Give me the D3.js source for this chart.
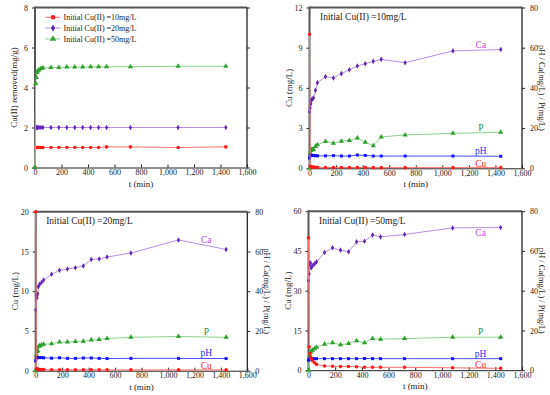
<!DOCTYPE html>
<html>
<head>
<meta charset="utf-8">
<script src="https://cdn.jsdelivr.net/npm/d3@7"></script>
<style>
  body { margin: 0; background: #fff; }
  svg { display: block; font-family: "Liberation Serif", "Times New Roman", serif; }
</style>
</head>
<body>
<svg id="chart" width="550" height="395"></svg>
<script>
// sampling times (min)
const times = [0, 5, 10, 15, 20, 30, 45, 60, 120, 180, 240, 300, 360, 420, 480, 540, 720, 1080, 1440];
const xTicks = [0, 200, 400, 600, 800, 1000, 1200, 1400, 1600];
const rightTicks = [0, 20, 40, 60, 80];

// panel (a): Cu(II) removed (mg/g)
const removed10 = [0, 1.0, 1.0, 1.0, 1.0, 1.0, 1.0, 1.0, 1.0, 1.0, 1.0, 1.0, 1.0, 1.0, 1.0, 1.03, 1.03, 1.0, 1.03];
const removed20 = [0, 2.0, 2.0, 2.0, 2.0, 2.0, 2.0, 2.0, 2.0, 2.0, 2.0, 2.0, 2.0, 2.0, 2.0, 2.0, 2.0, 2.0, 2.0];
const removed50 = [0, 4.2, 4.5, 4.75, 4.82, 4.88, 4.95, 4.97, 5.0, 5.0, 5.02, 5.02, 5.02, 5.04, 5.04, 5.04, 5.04, 5.06, 5.06];
const legendNames = ['Initial Cu(II) =10mg/L', 'Initial Cu(II) =20mg/L', 'Initial Cu(II) =50mg/L'];

// panel (b): 10 mg/L
const cu10 = [10, 0.15, 0.12, 0.1, 0.1, 0.1, 0.08, 0.08, 0.06, 0.06, 0.06, 0.06, 0.06, 0.06, 0.05, 0.05, 0.05, 0.05, 0.05];
const ca10 = [28, 30, 32, 34, 34.4, 35, 38.8, 42.6, 45.6, 44.9, 47.1, 49, 50.9, 52, 53.2, 54.2, 52.5, 58.4, 59.1];
const p10 = [0, 7.6, 8.9, 9.2, 9.5, 9.2, 10.9, 11.7, 13.3, 12.5, 13.5, 13.8, 15.1, 13, 11.2, 15.6, 16.6, 17.4, 17.9];
const ph10 = [5.1, 6.3, 6.5, 6.5, 6.4, 6.3, 6.3, 6.2, 6.2, 6.3, 6.1, 6.1, 6.6, 6.4, 6.1, 6.1, 6.1, 6.1, 6.0];

// panel (c): 20 mg/L
const cu20 = [20, 0.25, 0.2, 0.2, 0.15, 0.15, 0.15, 0.15, 0.12, 0.12, 0.12, 0.12, 0.12, 0.12, 0.12, 0.1, 0.1, 0.1, 0.1];
const ca20 = [30.5, 38, 36.7, 38.6, 42.3, 43.5, 44.5, 45.6, 48.5, 50.5, 51.2, 51.8, 52.7, 56, 56.2, 57.2, 59.2, 65.8, 61];
const p20 = [0, 8, 9.6, 10, 12, 12.5, 13, 13.3, 13.6, 14.4, 14.4, 14.7, 14.8, 15.5, 15.7, 16.2, 16.8, 17.2, 16.8];
const ph20 = [5.0, 6.5, 6.6, 6.6, 6.6, 6.6, 6.6, 6.5, 6.3, 6.5, 6.2, 6.2, 6.4, 6.4, 6.2, 6.1, 6.2, 6.2, 6.1];

// panel (d): 50 mg/L
const cu50 = [50, 8.8, 6.3, 5, 4.4, 3.6, 2.8, 2.2, 1.6, 1.5, 1.4, 1.4, 1.3, 1.1, 1.1, 1.1, 1.1, 0.9, 0.7];
const ca50 = [45, 48.5, 53.5, 54, 51.5, 52.5, 53.5, 54.5, 59.2, 61.6, 60.4, 59.6, 64.6, 64.9, 68, 67.1, 68.3, 71.6, 71.8];
const p50 = [0, 5.5, 7.5, 9.2, 9.7, 10, 10.8, 11.5, 13.1, 13.8, 12.8, 13.4, 14.8, 13.8, 15.9, 15.6, 15.9, 16.6, 16.6];
const ph50 = [5.0, 5.7, 5.8, 5.8, 5.8, 5.8, 5.8, 5.8, 5.8, 5.8, 5.8, 5.8, 5.8, 5.9, 5.8, 5.8, 5.8, 5.8, 5.8];

const svg = d3.select('#chart');
const fmt = d3.format(',');

const sty = {
  cu: { line: '#ff7070', mark: '#ff1a1a', label: '#ff2020', sym: d3.symbolCircle, size: 10 },
  ca: { line: '#b690e6', mark: '#6424b4', label: '#b64ee6', sym: d3.symbolDiamond, size: 9 },
  p:  { line: '#8fd08f', mark: '#2ea02e', label: '#2e8b3e', sym: d3.symbolTriangle, size: 12 },
  ph: { line: '#4a4aff', mark: '#1010ff', label: '#2a2aff', sym: d3.symbolSquare, size: 9 }
};

function frame(g, x, y, yTicks, opts) {
  const [x0, x1] = x.range();
  const [y1, y0] = y.range();

  g.append('g')
    .attr('transform', `translate(0,${y1})`)
    .call(d3.axisBottom(x).tickValues(xTicks).tickFormat(fmt).tickSizeInner(-3).tickSizeOuter(0).tickPadding(2))
    .call(a => a.select('.domain').attr('stroke', '#222'))
    .call(a => a.selectAll('.tick line').attr('stroke', '#222'))
    .call(a => a.selectAll('text').attr('font-size', 8).attr('font-family', 'Liberation Serif').attr('fill', '#222'));

  g.append('g')
    .attr('transform', `translate(${x0},0)`)
    .call(d3.axisLeft(y).tickValues(yTicks).tickSize(3).tickPadding(4))
    .call(a => a.select('.domain').remove())
    .call(a => a.selectAll('.tick line').attr('stroke', '#222'))
    .call(a => a.selectAll('text').attr('font-size', 8).attr('font-family', 'Liberation Serif').attr('fill', '#222'));

  const r = opts.right;
  const rightAxis = r ? d3.axisRight(r).tickValues(rightTicks) : d3.axisRight(y).tickValues(yTicks).tickFormat('');
  g.append('g')
    .attr('transform', `translate(${x1},0)`)
    .call(rightAxis.tickSize(3).tickPadding(5))
    .call(a => a.select('.domain').remove())
    .call(a => a.selectAll('.tick line').attr('stroke', '#222'))
    .call(a => a.selectAll('text').attr('font-size', 8).attr('font-family', 'Liberation Serif').attr('fill', '#222'));

  // box
  g.append('line').attr('x1', x0).attr('x2', x1).attr('y1', y0).attr('y2', y0)
    .attr('stroke', '#555').attr('stroke-width', 2);
  g.append('line').attr('x1', x1).attr('x2', x1).attr('y1', y0).attr('y2', y1)
    .attr('stroke', '#222').attr('stroke-width', 1.3);
  g.append('line').attr('x1', x0).attr('x2', x0).attr('y1', y0 - 1).attr('y2', y1)
    .attr('stroke', '#555').attr('stroke-width', 2);

  // axis titles
  g.append('text')
    .attr('x', (x0 + x1) / 2).attr('y', y1 + 19)
    .attr('text-anchor', 'middle').attr('font-size', 9).attr('fill', '#222')
    .text('t (min)');
  g.append('text')
    .attr('transform', `translate(${x0 - 18},${(y0 + y1) / 2}) rotate(-90)`)
    .attr('text-anchor', 'middle').attr('font-size', 9).attr('fill', '#222')
    .text(opts.leftLabel);
  if (r) {
    g.append('text')
      .attr('transform', `translate(${x1 + 17},${(y0 + y1) / 2}) rotate(90)`)
      .attr('text-anchor', 'middle').attr('font-size', 8.5).attr('fill', '#222')
      .text('pH / Ca(mg/L) / P(mg/L)');
  }
}

function series(g, x, y, vals, s) {
  const pts = times.map((t, i) => [t, vals[i]]);
  g.append('path')
    .datum(pts)
    .attr('fill', 'none')
    .attr('stroke', s.line)
    .attr('stroke-width', 1)
    .attr('d', d3.line().x(d => x(d[0])).y(d => y(d[1])));
  g.selectAll(null)
    .data(pts)
    .join('path')
    .attr('transform', d => `translate(${x(d[0])},${y(d[1])})`)
    .attr('d', d3.symbol(s.sym, s.size))
    .attr('fill', s.mark);
}

// value of a series at time t (linear between samples)
function valueAt(vals, t) {
  const i = d3.bisectRight(times, t);
  const t0 = times[i - 1], t1 = times[i];
  return vals[i - 1] + (vals[i] - vals[i - 1]) * (t - t0) / (t1 - t0);
}

// panel (a)
(function () {
  const g = svg.append('g');
  const x = d3.scaleLinear().domain([0, 1600]).range([35, 247]);
  const y = d3.scaleLinear().domain([0, 8]).range([167.5, 7.5]);
  frame(g, x, y, [0, 2, 4, 6, 8], { leftLabel: 'Cu(II)  removed(mg/g)' });
  const sets = [[removed10, sty.cu], [removed20, sty.ca], [removed50, sty.p]];
  sets.forEach(([v, s]) => series(g, x, y, v, s));

  const lg = g.append('g');
  sets.forEach(([v, s], i) => {
    const yy = 17.3 + i * 10.8;
    lg.append('line').attr('x1', 45.5).attr('x2', 60.5).attr('y1', yy).attr('y2', yy)
      .attr('stroke', s.line).attr('stroke-width', 1);
    lg.append('path').attr('transform', `translate(53,${yy})`)
      .attr('d', d3.symbol(s.sym, s.size + 6)).attr('fill', s.mark);
    lg.append('text').attr('x', 63.5).attr('y', yy + 3)
      .attr('font-size', 8).attr('fill', '#222').text(legendNames[i]);
  });
})();

// panels (b), (c), (d)
const panels = [
  { title: 'Initial Cu(II) =10mg/L', xr: [309.5, 522], yr: [168.3, 7.5], yMax: 12, yTicks: [0, 3, 6, 9, 12],
    cu: cu10, ca: ca10, p: p10, ph: ph10, caDy: -2 },
  { title: 'Initial Cu(II) =20mg/L', xr: [35.7, 247.3], yr: [370.7, 211.7], yMax: 20, yTicks: [0, 5, 10, 15, 20],
    cu: cu20, ca: ca20, p: p20, ph: ph20, caDy: -2 },
  { title: 'Initial Cu(II) =50mg/L', xr: [308.5, 522], yr: [370.2, 211.2], yMax: 60, yTicks: [0, 15, 30, 45, 60],
    cu: cu50, ca: ca50, p: p50, ph: ph50, caDy: 8 }
];

panels.forEach(pn => {
  const g = svg.append('g');
  const x = d3.scaleLinear().domain([0, 1600]).range(pn.xr);
  const y = d3.scaleLinear().domain([0, pn.yMax]).range(pn.yr);
  const r = d3.scaleLinear().domain([0, 80]).range(pn.yr);
  frame(g, x, y, pn.yTicks, { leftLabel: 'Cu (mg/L)', right: r });

  series(g, x, r, pn.ca, sty.ca);
  series(g, x, r, pn.p, sty.p);
  series(g, x, r, pn.ph, sty.ph);
  series(g, x, y, pn.cu, sty.cu);

  const tl = 1290;
  const labels = [
    ['Ca', sty.ca, r(valueAt(pn.ca, tl)) + pn.caDy],
    ['P', sty.p, r(valueAt(pn.p, tl)) - 2],
    ['pH', sty.ph, r(valueAt(pn.ph, tl)) - 2],
    ['Cu', sty.cu, y(valueAt(pn.cu, tl)) - 0.5]
  ];
  labels.forEach(([t, s, yy]) => {
    g.append('text').attr('x', x(tl)).attr('y', yy)
      .attr('text-anchor', 'middle').attr('font-size', 9.5).attr('fill', s.label).text(t);
  });

  g.append('text').attr('x', pn.xr[0] + 10.5).attr('y', pn.yr[1] + 12.5)
    .attr('font-size', 9.5).attr('fill', '#222').text(pn.title);
});
</script>
</body>
</html>
